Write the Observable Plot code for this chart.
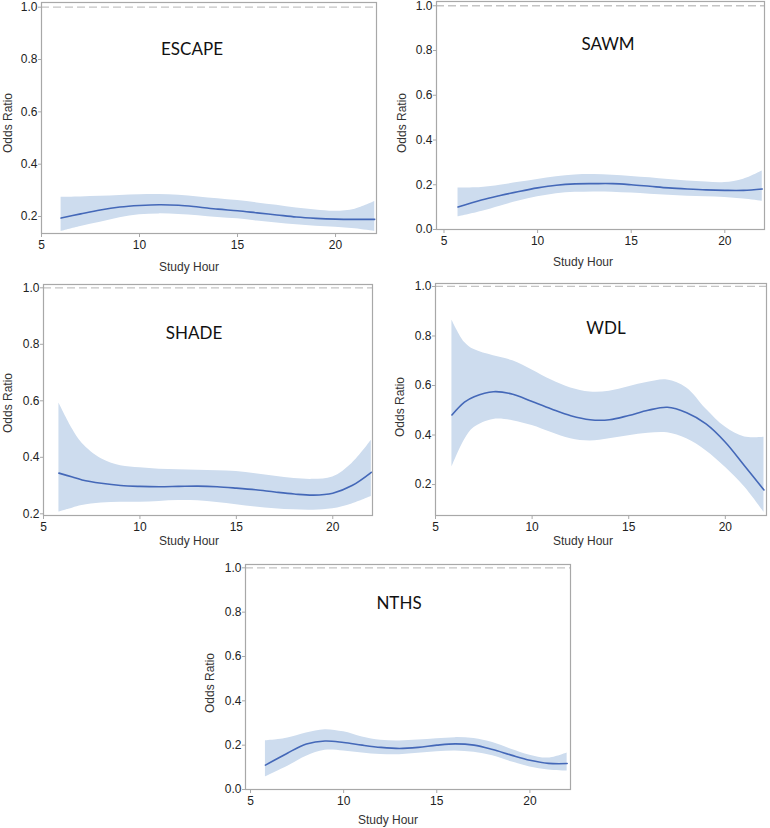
<!DOCTYPE html>
<html>
<head>
<meta charset="utf-8">
<script src="https://cdn.jsdelivr.net/npm/d3@7"></script>
<script src="https://cdn.jsdelivr.net/npm/@observablehq/plot@0.6"></script>
<style>
  html, body { margin: 0; padding: 0; background: #fff; }
  #root { position: relative; width: 770px; height: 828px; overflow: hidden; background: #fff; }
  .panel { position: absolute; overflow: hidden; }
  .panel svg { position: absolute; left: 0; top: 0; }
  .title { position: absolute; font-family: Lato, "Open Sans", sans-serif; font-size: 17px; color: #111; transform: translate(-50%, -50%); white-space: nowrap; }
  .xlab { position: absolute; font-family: "Liberation Sans", Arial, sans-serif; font-size: 12px; color: #333; transform: translate(-50%, -50%); white-space: nowrap; }
  .ylab { position: absolute; font-family: "Liberation Sans", Arial, sans-serif; font-size: 12px; color: #333; transform: translate(-50%, -50%) rotate(-90deg); white-space: nowrap; }
</style>
</head>
<body>
<div id="root"></div>
<script>
// ---------- data ----------
const panelNames = ["ESCAPE", "SAWM", "SHADE", "WDL", "NTHS"];
const yTicks = [0, 0.2, 0.4, 0.6, 0.8, 1.0];
const xTicks = [5, 10, 15, 20];
const referenceOR = [1.0];

const escapeHour  = [6, 7, 8, 9, 10, 11, 12, 13, 14, 15, 16, 17, 18, 19, 20, 21, 22];
const escapeOR    = [0.194, 0.210, 0.225, 0.236, 0.242, 0.245, 0.243, 0.236, 0.228, 0.222, 0.214, 0.206, 0.198, 0.193, 0.190, 0.189, 0.189];
const escapeLower = [0.143, 0.162, 0.178, 0.195, 0.207, 0.210, 0.208, 0.203, 0.196, 0.191, 0.183, 0.175, 0.168, 0.163, 0.159, 0.153, 0.143];
const escapeUpper = [0.274, 0.275, 0.277, 0.280, 0.283, 0.284, 0.281, 0.275, 0.268, 0.261, 0.252, 0.243, 0.232, 0.225, 0.220, 0.228, 0.257];

const sawmHour  = [5.75, 7, 8, 9, 10, 11, 12, 13, 14, 15, 16, 17, 18, 19, 20, 21, 22];
const sawmOR    = [0.101, 0.132, 0.152, 0.170, 0.186, 0.198, 0.204, 0.205, 0.205, 0.200, 0.193, 0.186, 0.181, 0.177, 0.175, 0.175, 0.181];
const sawmLower = [0.056, 0.080, 0.104, 0.127, 0.146, 0.160, 0.166, 0.168, 0.167, 0.163, 0.158, 0.153, 0.149, 0.146, 0.143, 0.136, 0.126];
const sawmUpper = [0.186, 0.188, 0.198, 0.211, 0.224, 0.236, 0.244, 0.246, 0.242, 0.237, 0.231, 0.223, 0.217, 0.212, 0.210, 0.225, 0.262];

const shadeHour  = [5.8, 6.5, 7, 8, 9, 10, 11, 12, 13, 14, 15, 16, 17, 18, 19, 20, 21, 22];
const shadeOR    = [0.344, 0.330, 0.320, 0.308, 0.300, 0.297, 0.296, 0.297, 0.298, 0.296, 0.291, 0.285, 0.277, 0.270, 0.266, 0.273, 0.300, 0.347];
const shadeLower = [0.206, 0.220, 0.229, 0.238, 0.241, 0.241, 0.244, 0.247, 0.246, 0.240, 0.232, 0.224, 0.218, 0.214, 0.213, 0.218, 0.235, 0.261];
const shadeUpper = [0.592, 0.500, 0.450, 0.395, 0.370, 0.363, 0.358, 0.356, 0.354, 0.352, 0.350, 0.342, 0.333, 0.325, 0.322, 0.330, 0.378, 0.460];

const wdlHour  = [5.85, 6.5, 7, 8, 9, 10, 11, 12, 13, 14, 15, 16, 17, 18, 19, 20, 21, 22];
const wdlOR    = [0.481, 0.533, 0.555, 0.575, 0.565, 0.535, 0.505, 0.478, 0.462, 0.462, 0.479, 0.500, 0.512, 0.490, 0.445, 0.371, 0.275, 0.178];
const wdlLower = [0.270, 0.380, 0.430, 0.463, 0.458, 0.438, 0.410, 0.385, 0.376, 0.385, 0.397, 0.407, 0.409, 0.385, 0.337, 0.270, 0.190, 0.088];
const wdlUpper = [0.865, 0.775, 0.745, 0.720, 0.700, 0.663, 0.622, 0.590, 0.574, 0.577, 0.595, 0.613, 0.622, 0.590, 0.505, 0.432, 0.392, 0.391];

const nthsHour  = [5.8, 6.5, 7, 8, 9, 10, 11, 12, 13, 14, 15, 16, 17, 18, 19, 20, 21, 22];
const nthsOR    = [0.110, 0.142, 0.165, 0.205, 0.219, 0.212, 0.200, 0.190, 0.185, 0.190, 0.200, 0.206, 0.200, 0.180, 0.155, 0.132, 0.118, 0.117];
const nthsLower = [0.057, 0.085, 0.105, 0.150, 0.177, 0.174, 0.165, 0.158, 0.157, 0.163, 0.170, 0.174, 0.168, 0.152, 0.125, 0.102, 0.088, 0.083];
const nthsUpper = [0.219, 0.225, 0.232, 0.255, 0.270, 0.260, 0.237, 0.222, 0.219, 0.223, 0.229, 0.234, 0.230, 0.212, 0.182, 0.155, 0.142, 0.165];

// ---------- layout ----------
const root = document.getElementById("root");

function rows(h, m, lo, hi) {
  return h.map((x, i) => ({hour: x, or: m[i], lo: lo[i], hi: hi[i]}));
}

const panels = [
  {name: panelNames[0], data: rows(escapeHour, escapeOR, escapeLower, escapeUpper),
   left: 0, top: 0, w: 385, h: 275, mL: 41, mR: 9, mT: 2, mB: 42,
   xd: [5, 22.09], yd: [0.135, 1.018],
   title: [192, 48], xlab: [189, 267], ylab: [8, 123]},
  {name: panelNames[1], data: rows(sawmHour, sawmOR, sawmLower, sawmUpper),
   left: 385, top: 0, w: 385, h: 275, mL: 51, mR: 6, mT: 1, mB: 46,
   xd: [4.6, 22.12], yd: [0, 1.019],
   title: [223, 43], xlab: [198, 262], ylab: [17, 123]},
  {name: panelNames[2], data: rows(shadeHour, shadeOR, shadeLower, shadeUpper),
   left: 0, top: 280, w: 385, h: 270, mL: 43, mR: 13, mT: 4, mB: 35,
   xd: [5, 22.06], yd: [0.194, 1.0117],
   title: [194, 52], xlab: [189, 261], ylab: [8, 123]},
  {name: panelNames[3], data: rows(wdlHour, wdlOR, wdlLower, wdlUpper),
   left: 385, top: 280, w: 385, h: 270, mL: 50, mR: 4, mT: 3, mB: 35,
   xd: [5, 22.13], yd: [0.075, 1.012],
   title: [221, 47], xlab: [198, 261], ylab: [15, 127]},
  {name: panelNames[4], data: rows(nthsHour, nthsOR, nthsLower, nthsUpper),
   left: 190, top: 550, w: 390, h: 278, mL: 55, mR: 10, mT: 14, mB: 39,
   xd: [4.73, 22.18], yd: [0, 1.015],
   title: [209, 52], xlab: [198, 270], ylab: [20, 133]}
];

for (const p of panels) {
  const div = document.createElement("div");
  div.className = "panel";
  div.style.left = p.left + "px";
  div.style.top = p.top + "px";
  div.style.width = p.w + "px";
  div.style.height = p.h + "px";

  const chart = Plot.plot({
    width: p.w,
    height: p.h,
    marginLeft: p.mL,
    marginRight: p.mR,
    marginTop: p.mT,
    marginBottom: p.mB,
    style: {fontFamily: "'Liberation Sans', Arial, sans-serif", fontSize: "12px", color: "#222", background: "transparent"},
    x: {domain: p.xd},
    y: {domain: p.yd},
    marks: [
      Plot.areaY(p.data, {x: "hour", y1: "lo", y2: "hi", fill: "#cddcee", curve: "catmull-rom"}),
      Plot.lineY(p.data, {x: "hour", y: "or", stroke: "#4468b8", strokeWidth: 1.6, curve: "catmull-rom"}),
      Plot.ruleY(referenceOR, {stroke: "#c4c4c4", strokeWidth: 1.3, strokeDasharray: "8,4"}),
      Plot.frame({stroke: "#a8a8a8", strokeWidth: 1.2}),
      Plot.axisX({ticks: xTicks, tickSize: 4, tickPadding: 3, stroke: "#a8a8a8", label: null}),
      Plot.axisY({ticks: yTicks.filter(t => t >= p.yd[0] - 1e-9 && t <= p.yd[1] + 1e-9), tickFormat: d3.format(".1f"), tickSize: 3, tickPadding: 1, stroke: "#a8a8a8", label: null})
    ]
  });
  div.appendChild(chart);

  const t = document.createElement("div");
  t.className = "title";
  t.textContent = p.name;
  t.style.left = p.title[0] + "px";
  t.style.top = p.title[1] + "px";
  div.appendChild(t);

  const xl = document.createElement("div");
  xl.className = "xlab";
  xl.textContent = "Study Hour";
  xl.style.left = p.xlab[0] + "px";
  xl.style.top = p.xlab[1] + "px";
  div.appendChild(xl);

  const yl = document.createElement("div");
  yl.className = "ylab";
  yl.textContent = "Odds Ratio";
  yl.style.left = p.ylab[0] + "px";
  yl.style.top = p.ylab[1] + "px";
  div.appendChild(yl);

  root.appendChild(div);
}
</script>
</body>
</html>
